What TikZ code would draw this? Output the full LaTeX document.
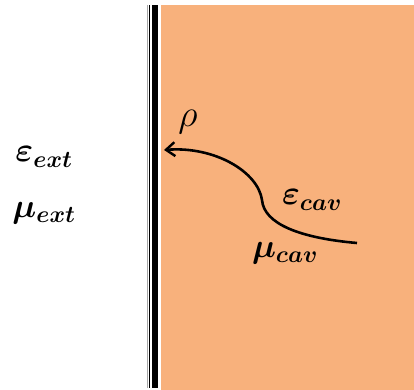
\RequirePackage{fix-cm}
\documentclass[tikz,border=0pt]{standalone}
\usepackage{amsmath,amssymb,bm}
\usetikzlibrary{arrows.meta,positioning}
\definecolor{cavity}{RGB}{248,177,124}
\tikzset{
  wallthin/.style={line width=1.6pt, draw=black},
  wallthick/.style={line width=5.5pt, draw=black},
  medium/.style={font=\fontsize{34}{38}\selectfont, inner sep=0pt},
  ray/.style={-{Straight Barb[length=9pt,width=14pt,line width=2.4pt]}, line width=2.6pt, draw=black}
}
\newcommand{\medsym}[2]{$\bm{#1}_{\bm{#2}}$}

\begin{document}
\begin{tikzpicture}[x=1bp,y=-1bp]
  \useasboundingbox (0,0) rectangle (414,390);

  % cavity region and its wall
  \fill[cavity] (161,5) rectangle (414,390);
  \draw[draw=gray!70, line width=1pt] (147.5,5) -- (147.5,388);
  \draw[wallthin] (149.5,5) -- (149.5,388);
  \draw[wallthick] (155,5) -- (155,388);

  % media labels
  \node[medium] (epsext) at (44,157) {\medsym{\varepsilon}{ext}};
  \node[medium, below=56bp of epsext.center, anchor=center] (muext) {\medsym{\mu}{ext}};
  \node[medium] (epscav) at (312,200) {\medsym{\varepsilon}{cav}};
  \node[medium] (mucav) at (285,253) {\medsym{\mu}{cav}};
  \node[medium, font=\fontsize{38}{40}\selectfont] (rho) at (188,122) {$\rho$};

  % reflected ray
  \coordinate (raystart) at (357,243);
  \coordinate (raytip) at (164,150);
  \draw[ray] (raystart) .. controls (300,238) and (264,224) .. (262,200)
             .. controls (258,172) and (215,146) .. (raytip);

\end{tikzpicture}
\end{document}
